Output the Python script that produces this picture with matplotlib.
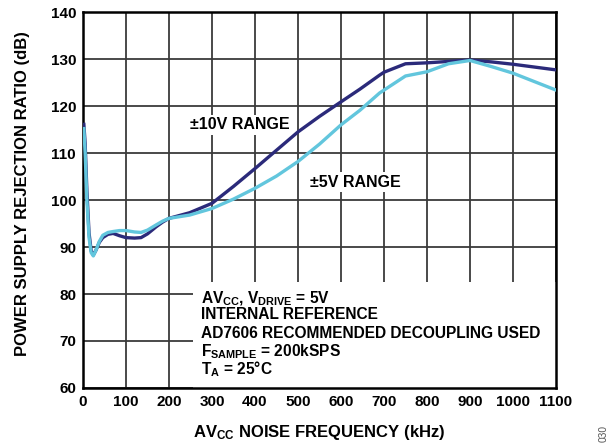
import matplotlib
matplotlib.use("Agg")
import matplotlib.pyplot as plt
from matplotlib.patches import Rectangle

plt.rcParams['font.family'] = ['Liberation Sans', 'DejaVu Sans']
plt.rcParams['font.weight'] = 'bold'
plt.rcParams['mathtext.fontset'] = 'custom'
plt.rcParams['mathtext.rm'] = 'Liberation Sans:bold'
plt.rcParams['mathtext.it'] = 'Liberation Sans:bold'
plt.rcParams['mathtext.bf'] = 'Liberation Sans:bold'
plt.rcParams['mathtext.default'] = 'rm'

# PSRR vs AVcc noise frequency
freq_10v = [2, 5, 9, 14, 19, 24, 30, 38, 46, 58, 70, 85, 100, 120, 135, 150, 170, 185,
            200, 248, 300, 350, 400, 450, 500, 550, 600, 644, 690, 700, 750, 800,
            850, 900, 950, 1000, 1050, 1100]
psrr_10v = [116.1, 112, 102, 93, 89.2, 88.3, 89.3, 91, 92.0, 92.7, 92.9, 92.4, 92.0, 91.9,
            92.0, 92.8, 94.3, 95.3, 96.1, 97.3, 99.3, 102.9, 106.7, 110.6, 114.5,
            117.8, 120.9, 123.6, 126.6, 127.2, 129.0, 129.2, 129.5, 129.8, 129.4,
            128.9, 128.3, 127.7]

freq_5v = [2, 5, 9, 14, 19, 24, 30, 38, 46, 58, 70, 85, 100, 120, 135, 150, 170, 185,
           200, 248, 300, 350, 400, 450, 500, 550, 600, 644, 690, 700, 750, 800,
           850, 900, 950, 1000, 1050, 1100]
psrr_5v = [115.2, 110, 100, 92, 88.8, 88.1, 89.3, 91.2, 92.5, 93.1, 93.3, 93.5, 93.5, 93.2,
           93.1, 93.6, 94.7, 95.5, 96.1, 96.8, 98.2, 100.2, 102.5, 105.1, 108.2,
           111.9, 116.0, 119.1, 122.8, 123.4, 126.4, 127.3, 129.0, 129.7, 128.4,
           127.0, 125.2, 123.4]

x_ticks = list(range(0, 1101, 100))
y_ticks = list(range(60, 141, 10))

notes = ["AV$_{CC}$, V$_{DRIVE}$ = 5V",
         "INTERNAL REFERENCE",
         "AD7606 RECOMMENDED DECOUPLING USED",
         "F$_{SAMPLE}$ = 200kSPS",
         "T$_{A}$ = 25°C"]
note_y = [78.1, 74.7, 70.6, 66.8, 62.9]

fig = plt.figure(figsize=(6.13, 4.48), dpi=100)
ax = fig.add_axes([0.1354, 0.134, 0.7716, 0.839])

ax.set_xlim(0, 1100)
ax.set_ylim(60, 140)
ax.set_xticks(x_ticks)
ax.set_yticks(y_ticks)
ax.grid(True, color='#3a3a3a', linewidth=1.3)
ax.set_axisbelow(True)
ax.tick_params(length=0, labelsize=11, pad=5)
for lab in ax.get_xticklabels() + ax.get_yticklabels():
    lab.set_fontweight('bold')
for sp in ax.spines.values():
    sp.set_linewidth(1.8)
    sp.set_color('black')

# white panel behind the condition notes
ax.add_patch(Rectangle((256, 60), 844, 22.5, facecolor='white', edgecolor='none', zorder=1))

ax.plot(freq_10v, psrr_10v, color='#2b2a7a', linewidth=2.4, zorder=3)
ax.plot(freq_5v, psrr_5v, color='#62c6dd', linewidth=2.4, zorder=4)

ax.text(365, 116, '±10V RANGE', fontsize=11.5, fontweight='bold', ha='center', va='center',
        bbox=dict(facecolor='white', edgecolor='none', pad=2), zorder=2)
ax.text(633, 103.8, '±5V RANGE', fontsize=11.5, fontweight='bold', ha='center', va='center',
        bbox=dict(facecolor='white', edgecolor='none', pad=2), zorder=2)
for line, yy in zip(notes, note_y):
    ax.text(274, yy, line, fontsize=11.2, fontweight='bold', ha='left', va='baseline', zorder=5)

ax.set_xlabel('AV$_{CC}$ NOISE FREQUENCY (kHz)', fontsize=12, fontweight='bold', labelpad=10)
ax.set_ylabel('POWER SUPPLY REJECTION RATIO (dB)', fontsize=12, fontweight='bold')
ax.yaxis.set_label_coords(-0.112, 0.517)

fig.text(0.984, 0.033, '030', fontsize=7.3, color='#555555', rotation=90,
         ha='center', va='center', fontweight='normal')

fig.savefig('out.png', dpi=100)
